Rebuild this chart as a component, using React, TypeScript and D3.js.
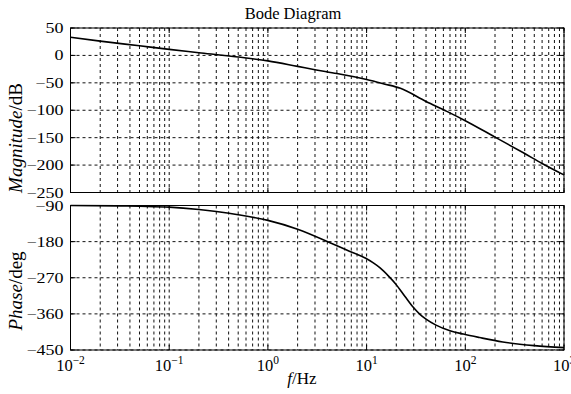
import * as d3 from "d3";

// magnitude curve
const magFreq = [0.01, 0.02, 0.05, 0.1, 0.2, 0.5, 1, 2, 3, 5, 10, 15, 22, 40, 65, 100, 200, 400, 600, 1000];
const magDb = [33, 26, 17.5, 11, 5, -3, -10, -20, -26, -33, -44, -52, -60, -84, -102, -119, -149, -179, -197, -218];

// phase curve
const phaseFreq = [0.01, 0.03, 0.05, 0.1, 0.2, 0.3, 0.5, 1, 2, 4.26, 6.28, 9.8, 11.7, 13.7, 16.6, 19.7, 24.5, 29.7, 34.7, 40, 50.5, 70, 95.5, 140, 240, 500, 1000];
const phaseDeg = [-90, -91, -92, -94, -100, -105, -113, -127, -149, -182.6, -200.9, -221.6, -233.1, -245.5, -265.2, -285.3, -316.7, -343.7, -361.1, -373.1, -388, -402, -410.3, -419, -430, -439, -444];

const magTicks = [50, 0, -50, -100, -150, -200, -250];
const phaseTicks = [-90, -180, -270, -360, -450];
const decadeExp = [-2, -1, 0, 1, 2, 3];

const font = "'Liberation Serif', 'Times New Roman', serif";
const minus = (v: number) => (v < 0 ? "\u2212" + Math.abs(v) : String(v));

const left = 70.5;
const right = 564;
const x = d3.scaleLog().domain([0.01, 1000]).range([left, right]);
const gridFreqs = d3
  .range(-2, 3)
  .flatMap((e) => d3.range(1, 10).map((k) => k * Math.pow(10, e)))
  .concat([1000]);

function Panel({ y, ticks, freqs, values }: { y: d3.ScaleLinear<number, number>; ticks: number[]; freqs: number[]; values: number[] }) {
  const [bottom, top] = y.range();
  const line = d3
    .line<number>()
    .x((_, i) => x(freqs[i]))
    .y((d) => y(d))
    .curve(d3.curveMonotoneX);
  return (
    <g>
      {gridFreqs.map((f) => (
        <line key={f} x1={x(f)} x2={x(f)} y1={top} y2={bottom} stroke="#111" strokeWidth={1} strokeDasharray="3,3" />
      ))}
      {ticks.map((t) => (
        <g key={t}>
          <line x1={left} x2={right} y1={y(t)} y2={y(t)} stroke="#111" strokeWidth={1} strokeDasharray="3,3" />
          <line x1={left} x2={left + 5} y1={y(t)} y2={y(t)} stroke="#000" />
          <line x1={right - 5} x2={right} y1={y(t)} y2={y(t)} stroke="#000" />
          {/* labels in the picture are stretched sideways */}
          <text transform={`translate(63.5,${y(t) + 5}) scale(1.2,1)`} textAnchor="end" fontSize={15} fill="#000">
            {minus(t)}
          </text>
        </g>
      ))}
      {decadeExp.map((e) => (
        <g key={e}>
          <line x1={x(Math.pow(10, e))} x2={x(Math.pow(10, e))} y1={bottom} y2={bottom - 5} stroke="#000" />
          <line x1={x(Math.pow(10, e))} x2={x(Math.pow(10, e))} y1={top} y2={top + 5} stroke="#000" />
        </g>
      ))}
      <rect x={left} y={top} width={right - left} height={bottom - top} fill="none" stroke="#000" strokeWidth={1} />
      <path d={line(values) ?? ""} fill="none" stroke="#000" strokeWidth={1.6} />
    </g>
  );
}

export default function App() {
  const width = 571;
  const height = 394;
  const yMag = d3.scaleLinear().domain([-250, 50]).range([192.5, 28]);
  const yPh = d3.scaleLinear().domain([-450, -90]).range([350, 205.5]);

  return (
    <svg width={width} height={height} style={{ position: "absolute", left: 0, top: 0, background: "#fff" }} fontFamily={font}>
      <rect width={width} height={height} fill="#fff" />
      <text x={293} y={18.5} textAnchor="middle" fontSize={16.5}>
        Bode Diagram
      </text>
      <Panel y={yMag} ticks={magTicks} freqs={magFreq} values={magDb} />
      <Panel y={yPh} ticks={phaseTicks} freqs={phaseFreq} values={phaseDeg} />
      {decadeExp.map((e) => (
        <text key={e} x={x(Math.pow(10, e))} y={371} textAnchor="middle" fontSize={16.5}>
          10
          <tspan dy={-7} fontSize={11.5}>
            {minus(e)}
          </tspan>
        </text>
      ))}
      <text x={302} y={384} textAnchor="middle" fontSize={17}>
        <tspan fontStyle="italic">f</tspan>/Hz
      </text>
      <text transform="translate(22,138) rotate(-90)" textAnchor="middle" fontSize={19}>
        <tspan fontStyle="italic">Magnitude</tspan>/dB
      </text>
      <text transform="translate(22,291) rotate(-90)" textAnchor="middle" fontSize={19}>
        <tspan fontStyle="italic">Phase</tspan>/deg
      </text>
    </svg>
  );
}
